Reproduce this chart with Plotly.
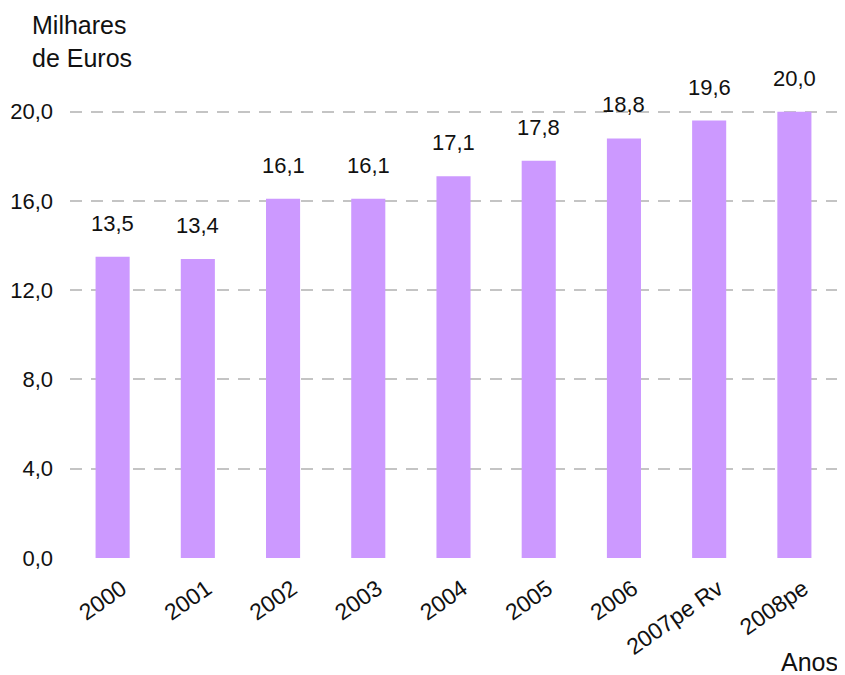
import plotly.graph_objects as go

categories = ["2000", "2001", "2002", "2003", "2004", "2005", "2006", "2007pe Rv", "2008pe"]
values = [13.5, 13.4, 16.1, 16.1, 17.1, 17.8, 18.8, 19.6, 20.0]
ytick_vals = [0, 4, 8, 12, 16, 20]
ytick_text = ["0,0", "4,0", "8,0", "12,0", "16,0", "20,0"]

FONT = "Liberation Sans, Arial, sans-serif"
TXT = "#111111"

xpos = list(range(len(categories)))

fig = go.Figure()
fig.add_trace(go.Bar(
    x=xpos, y=values,
    marker=dict(color="#CC99FF", line=dict(width=0)),
    width=0.4,
    hoverinfo="skip",
))

for i, v in zip(xpos, values):
    fig.add_annotation(
        x=i, y=v, xref="x", yref="y",
        text=f"{v:.1f}".replace(".", ","),
        showarrow=False, yanchor="bottom", yshift=19,
        font=dict(family=FONT, size=22, color=TXT),
    )

fig.add_annotation(
    xref="paper", yref="paper", x=-0.052, y=1.118, xanchor="left", yanchor="top",
    text="Milhares<br>de Euros", align="left", showarrow=False,
    font=dict(family=FONT, size=25, color=TXT),
)
fig.add_annotation(
    xref="paper", yref="paper", x=1.004, y=-0.212, xanchor="right", yanchor="middle",
    text="Anos", showarrow=False,
    font=dict(family=FONT, size=25, color=TXT),
)

fig.update_layout(
    width=845, height=675,
    margin=dict(l=62, r=16, t=59, b=125, autoexpand=False),
    plot_bgcolor="white", paper_bgcolor="white",
    showlegend=False,
    font=dict(family=FONT, size=22, color=TXT),
)
fig.update_xaxes(
    type="linear", range=[-0.5, 8.5], automargin=False,
    tickvals=xpos, ticktext=categories,
    showgrid=False, showline=False, zeroline=False,
    tickangle=-35, ticklabelshift=9, ticklabelstandoff=12,
    tickfont=dict(family=FONT, size=23, color=TXT),
)
fig.update_yaxes(
    range=[0, 22], tickvals=ytick_vals, ticktext=ytick_text, automargin=False,
    showgrid=True, gridcolor="#C4C4C4", gridwidth=1.5, griddash="12px,9px",
    zeroline=False, showline=False, ticklabelstandoff=16,
    tickfont=dict(family=FONT, size=22, color=TXT),
)

fig.write_html("out.html")
